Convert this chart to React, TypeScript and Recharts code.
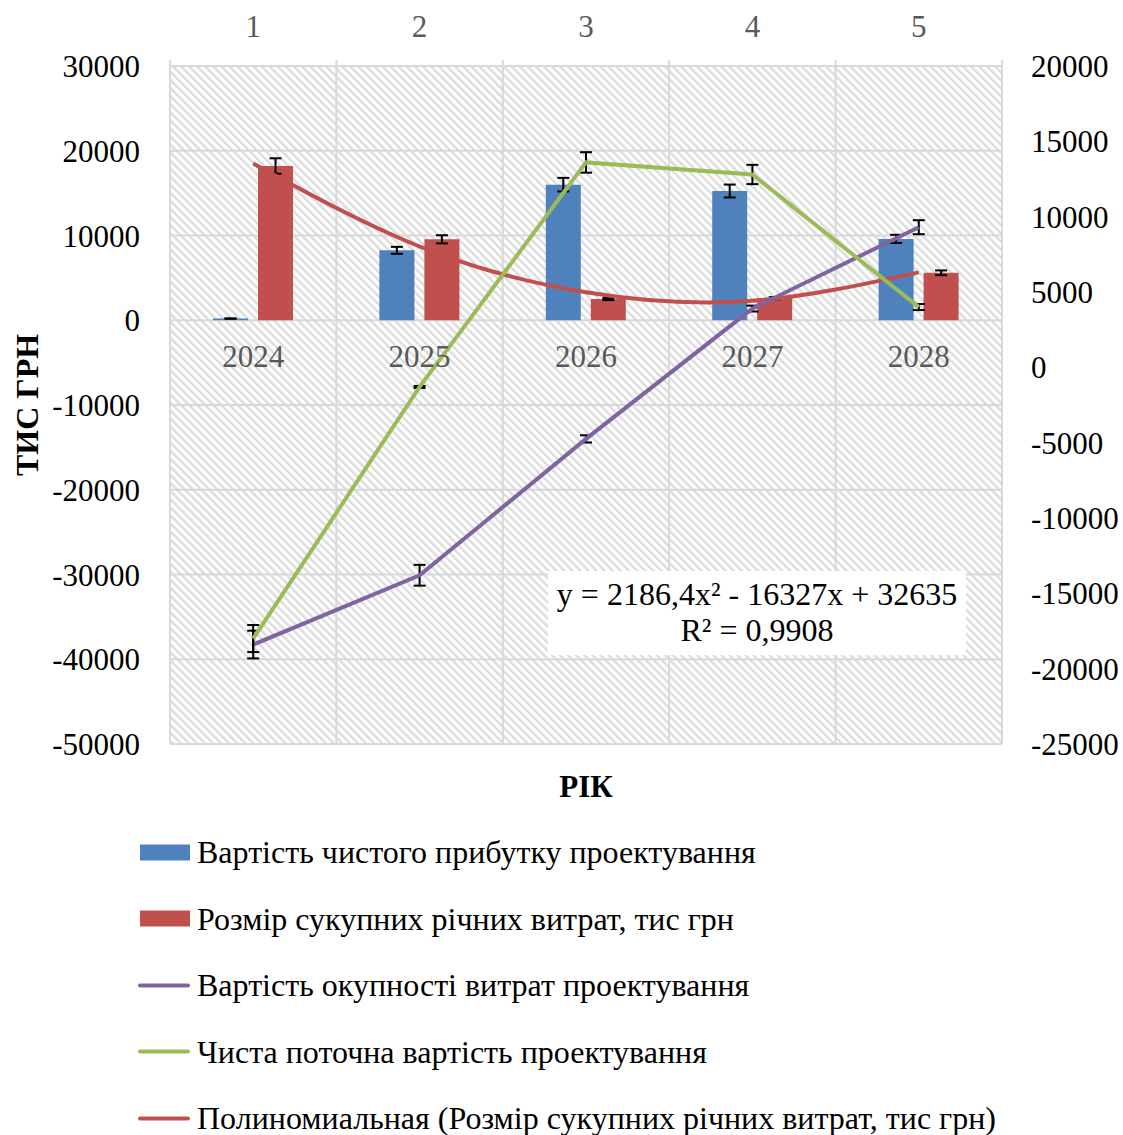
import { ComposedChart, Bar, Line, XAxis, YAxis, CartesianGrid, ErrorBar, ReferenceDot } from 'recharts';

const FONT = '"Liberation Serif", "Times New Roman", serif';

// categories (bottom axis) and periods (top secondary axis)
const years = ['2024', '2025', '2026', '2027', '2028'];
const periods = ['1', '2', '3', '4', '5'];

// primary axis (bars), тис грн
const netProfit = [200, 8250, 16000, 15250, 9600];
const netProfitErr = [10, 410, 800, 760, 480];
const annualCosts = [18200, 9550, 2500, 2600, 5600];
const annualCostsErr = [910, 480, 125, 130, 280];
// polynomial trendline of annual costs, read at each year
const costsTrend = [18500, 8700, 3300, 2300, 5650];

// secondary axis (lines)
const payback = [-18400, -13800, -4750, 3900, 9300];
const paybackErr = [920, 690, 240, 195, 465];
const npv = [-18000, -1300, 13600, 12800, 4000];
const npvErr = [900, 65, 680, 640, 200];

const leftTicks = [30000, 20000, 10000, 0, -10000, -20000, -30000, -40000, -50000];
const rightTicks = [20000, 15000, 10000, 5000, 0, -5000, -10000, -15000, -20000, -25000];

const data = years.map((year, i) => ({
  year,
  period: periods[i],
  netProfit: netProfit[i],
  netProfitErr: netProfitErr[i],
  annualCosts: annualCosts[i],
  annualCostsErr: annualCostsErr[i],
  costsTrend: costsTrend[i],
  payback: payback[i],
  paybackErr: paybackErr[i],
  npv: npv[i],
  npvErr: npvErr[i],
}));

const legendItems = [
  { name: 'Вартість чистого прибутку проектування', color: '#4f81bd', kind: 'bar' },
  { name: 'Розмір сукупних річних витрат, тис грн', color: '#c0504d', kind: 'bar' },
  { name: 'Вартість окупності витрат проектування', color: '#8064a2', kind: 'line' },
  { name: 'Чиста поточна вартість проектування', color: '#9bbb59', kind: 'line' },
  { name: 'Полиномиальная (Розмір сукупних річних витрат, тис грн)', color: '#c0504d', kind: 'line' },
];

const tickStyle = { fill: '#000', fontSize: 31, fontFamily: FONT };

// small tick marks above the plot at category boundaries (top axis)
const TopTick = (props: any) => {
  const { x, y, payload, index, visibleTicksCount } = props;
  const step = props.width / (visibleTicksCount || years.length);
  const left = x - step / 2;
  return (
    <g>
      <line x1={left} x2={left} y1={y + 23} y2={y + 33} stroke="#d9d9d9" strokeWidth={2} />
      {index === years.length - 1 && (
        <line x1={left + step} x2={left + step} y1={y + 23} y2={y + 33} stroke="#d9d9d9" strokeWidth={2} />
      )}
      <text x={x} y={y} textAnchor="middle" fill="#595959" fontSize={31} fontFamily={FONT}>
        {payload.value}
      </text>
    </g>
  );
};

export default function App() {
  return (
    <div style={{ position: 'absolute', left: 0, top: 0, width: 1123, height: 1135, background: '#fff', fontFamily: FONT }}>
      <style>{`svg text { font-family: "Liberation Serif", "Times New Roman", serif; }`}</style>
      <ComposedChart
        width={1123}
        height={800}
        data={data}
        margin={{ top: 0, right: 0, bottom: 56, left: 0 }}
        barSize={35}
        barGap={10}
      >
        <defs>
          <pattern id="hatch" width="5.7" height="5.7" patternUnits="userSpaceOnUse" patternTransform="rotate(-45)">
            <rect width="5.7" height="5.7" fill="#fff" />
            <rect width="2.4" height="5.7" fill="#dcdcdc" />
          </pattern>
        </defs>
        <CartesianGrid
          xAxisId="cat"
          yAxisId="left"
          fill="url(#hatch)"
          stroke="#d9d9d9"
          strokeWidth={2}
          verticalCoordinatesGenerator={({ offset }: any) =>
            [0, 1, 2, 3, 4, 5].map((i) => offset.left + (i * offset.width) / years.length)
          }
        />
        <XAxis xAxisId="cat" dataKey="year" scale="band" hide />
        <XAxis
          xAxisId="top"
          dataKey="period"
          orientation="top"
          scale="band"
          height={66}
          axisLine={false}
          tickLine={false}
          tickMargin={23}
          tick={<TopTick />}
        />
        <YAxis
          yAxisId="left"
          width={170}
          domain={[-50000, 30000]}
          ticks={leftTicks}
          interval={0}
          axisLine={false}
          tickLine={false}
          tickMargin={24}
          tick={tickStyle}
        />
        <YAxis
          yAxisId="right"
          orientation="right"
          width={121}
          domain={[-25000, 20000]}
          ticks={rightTicks}
          interval={0}
          axisLine={false}
          tickLine={false}
          tickMargin={23}
          tick={{ ...tickStyle, textAnchor: 'start' }}
        />
        {years.map((y) => (
          <ReferenceDot
            key={y}
            xAxisId="cat"
            yAxisId="left"
            x={y}
            y={0}
            r={1}
            fill="none"
            stroke="none"
            label={{ value: y, position: 'bottom', offset: 24, fill: '#595959', fontSize: 31, fontFamily: FONT }}
          />
        ))}
        <Bar xAxisId="cat" yAxisId="left" dataKey="netProfit" fill="#4f81bd" isAnimationActive={false}>
          <ErrorBar dataKey="netProfitErr" direction="y" width={6} stroke="#000" strokeWidth={2} />
        </Bar>
        <Bar xAxisId="cat" yAxisId="left" dataKey="annualCosts" fill="#c0504d" isAnimationActive={false}>
          <ErrorBar dataKey="annualCostsErr" direction="y" width={6} stroke="#000" strokeWidth={2} />
        </Bar>
        <Line
          xAxisId="cat"
          yAxisId="left"
          dataKey="costsTrend"
          type="natural"
          stroke="#c0504d"
          strokeWidth={4}
          dot={false}
          isAnimationActive={false}
        />
        <Line
          xAxisId="top"
          yAxisId="right"
          dataKey="payback"
          stroke="#8064a2"
          strokeWidth={4}
          dot={false}
          isAnimationActive={false}
        >
          <ErrorBar dataKey="paybackErr" direction="y" width={6} stroke="#000" strokeWidth={2} />
        </Line>
        <Line
          xAxisId="top"
          yAxisId="right"
          dataKey="npv"
          stroke="#9bbb59"
          strokeWidth={4}
          dot={false}
          isAnimationActive={false}
        >
          <ErrorBar dataKey="npvErr" direction="y" width={6} stroke="#000" strokeWidth={2} />
        </Line>
      </ComposedChart>

      {/* trendline equation */}
      <div
        style={{
          position: 'absolute',
          left: 548,
          top: 571,
          width: 418,
          height: 84,
          background: '#fff',
          textAlign: 'center',
          fontSize: 32,
          lineHeight: '36px',
          paddingTop: 5,
          boxSizing: 'border-box',
          color: '#000',
        }}
      >
        <div>y = 2186,4x² - 16327x + 32635</div>
        <div>R² = 0,9908</div>
      </div>

      {/* axis titles */}
      <div
        style={{
          position: 'absolute',
          left: 27,
          top: 405,
          transform: 'translate(-50%, -50%) rotate(-90deg)',
          whiteSpace: 'nowrap',
          fontWeight: 'bold',
          fontSize: 32,
        }}
      >
        ТИС ГРН
      </div>
      <div
        style={{
          position: 'absolute',
          left: 586,
          top: 787,
          transform: 'translate(-50%, -50%)',
          whiteSpace: 'nowrap',
          fontWeight: 'bold',
          fontSize: 31,
        }}
      >
        РІК
      </div>

      {/* legend */}
      {legendItems.map((item, i) => (
        <div
          key={item.name}
          style={{
            position: 'absolute',
            left: 138,
            top: 852 + i * 66.5,
            transform: 'translateY(-50%)',
            display: 'flex',
            alignItems: 'center',
            whiteSpace: 'nowrap',
            fontSize: 32,
          }}
        >
          {item.kind === 'bar' ? (
            <span style={{ display: 'inline-block', width: 50, height: 16, marginLeft: 2, background: item.color }} />
          ) : (
            <span style={{ display: 'inline-block', width: 52, height: 4, borderRadius: 2, background: item.color }} />
          )}
          <span style={{ marginLeft: 7 }}>{item.name}</span>
        </div>
      ))}
    </div>
  );
}
